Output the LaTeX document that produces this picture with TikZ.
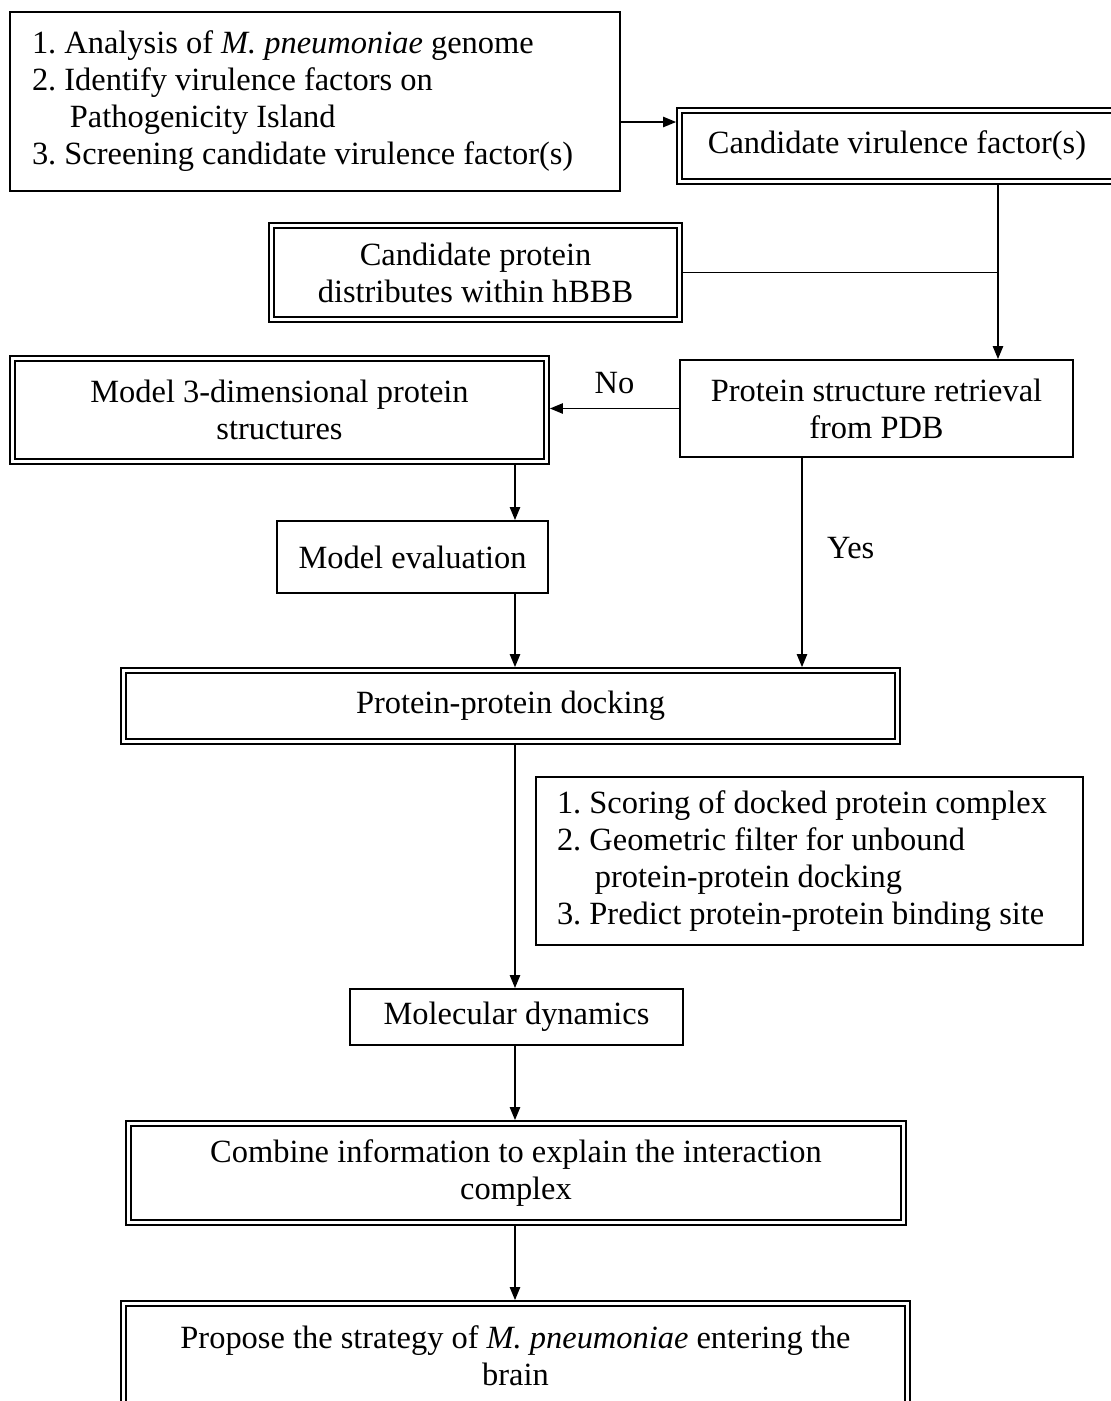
\documentclass[tikz,border=0pt]{standalone}
\usepackage{fontspec}
\setmainfont{Liberation Serif}
\usepackage{tikz}
\usetikzlibrary{positioning,arrows.meta}
\newcommand{\pxu}{0.37pt}

\begin{document}
\begin{tikzpicture}[
    x=0.37pt, y=-0.37pt,
    font=\fontsize{12}{13.7}\selectfont\frenchspacing,
    singleBox/.style={draw=black, line width=0.7pt, align=center, inner sep=0pt},
    doubleBox/.style={draw=black, line width=0.7pt, double, double distance=1.1pt,
        outer sep=1.25pt, align=center, inner sep=0pt},
    flowLine/.style={line width=0.6pt},
    flowArrow/.style={flowLine, -{Triangle[length=4.8pt, width=3.8pt]}}
]
    % Page frame (the figure is cropped at its right and bottom edge)
    \useasboundingbox (0, 0) rectangle (1111, 1401);
    \clip (0, 0) rectangle (1111, 1401);

    % Genome analysis steps
    \node[singleBox, align=flush left, text width={566*\pxu}, inner xsep={22*\pxu},
        minimum height={179*\pxu}] (stepsNode) at (315, 101.5) {
        1. Analysis of \textit{M. pneumoniae} genome\\
        2. Identify virulence factors on\\
        \hspace*{1.17em}Pathogenicity Island\\
        3. Screening candidate virulence factor(s)
    };

    % Candidate virulence factors
    \node[doubleBox, minimum width={435*\pxu}, minimum height={71*\pxu}]
        (candidateNode) at (897, 146) {Candidate virulence factor(s)};

    % Distribution within hBBB
    \node[doubleBox, minimum width={408*\pxu}, minimum height={94*\pxu}]
        (hbbbNode) at (475.5, 272.5) {Candidate protein\\distributes within hBBB};

    % Structure retrieval
    \node[singleBox, minimum width={393*\pxu}, minimum height={97*\pxu}]
        (retrievalNode) at (876.5, 408.5) {Protein structure retrieval\\from PDB};

    % Homology modelling branch
    \node[doubleBox, minimum width={534*\pxu}, minimum height={103*\pxu}]
        (modelNode) at (279.5, 410) {Model 3-dimensional protein\\structures};
    \node[singleBox, minimum width={271*\pxu}, minimum height={72*\pxu}]
        (evalNode) at (412.5, 557) {Model evaluation};

    % Docking
    \node[doubleBox, minimum width={774*\pxu}, minimum height={71*\pxu}]
        (dockNode) at (510.5, 706) {Protein-protein docking};

    % Docking analysis notes
    \node[singleBox, align=flush left, text width={505*\pxu}, inner xsep={21*\pxu},
        minimum height={168*\pxu}] (notesNode) at (809.5, 861) {
        1. Scoring of docked protein complex\\
        2. Geometric filter for unbound\\
        \hspace*{1.17em}protein-protein docking\\
        3. Predict protein-protein binding site
    };

    % Simulation and conclusions
    \node[singleBox, minimum width={333*\pxu}, minimum height={56*\pxu}]
        (mdNode) at (516.5, 1017) {Molecular dynamics};
    \node[doubleBox, minimum width={775*\pxu}, minimum height={99*\pxu}]
        (combineNode) at (516, 1173) {Combine information to explain the interaction\\complex};
    \node[doubleBox, minimum width={784*\pxu}, minimum height={105*\pxu}]
        (strategyNode) at (515.5, 1356) {Propose the strategy of \textit{M. pneumoniae} entering the\\brain};

    % Connector columns and rows
    \coordinate (feedRow) at (0, 122);
    \coordinate (hbbbJoin) at (998, 272.5);
    \coordinate (trunk) at (515, 0);
    \coordinate (yesCol) at (802, 0);

    % Connectors
    \draw[flowArrow] (stepsNode.east |- feedRow) -- (candidateNode.west |- feedRow);
    \draw[flowArrow] (candidateNode.south -| hbbbJoin) -- (retrievalNode.north -| hbbbJoin);
    \draw[flowLine] (hbbbNode.east) -- (hbbbJoin);
    \draw[flowArrow] (retrievalNode.west) -- (modelNode.east |- retrievalNode.west)
        node[midway, above=5pt, inner sep=0pt] {No};
    \draw[flowArrow] (retrievalNode.south -| yesCol) -- (dockNode.north -| yesCol)
        node[pos=0.43, right=9pt, inner sep=0pt] {Yes};
    \draw[flowArrow] (modelNode.south -| trunk) -- (evalNode.north -| trunk);
    \draw[flowArrow] (evalNode.south -| trunk) -- (dockNode.north -| trunk);
    \draw[flowArrow] (dockNode.south -| trunk) -- (mdNode.north -| trunk);
    \draw[flowArrow] (mdNode.south -| trunk) -- (combineNode.north -| trunk);
    \draw[flowArrow] (combineNode.south -| trunk) -- (strategyNode.north -| trunk);
\end{tikzpicture}
\end{document}
